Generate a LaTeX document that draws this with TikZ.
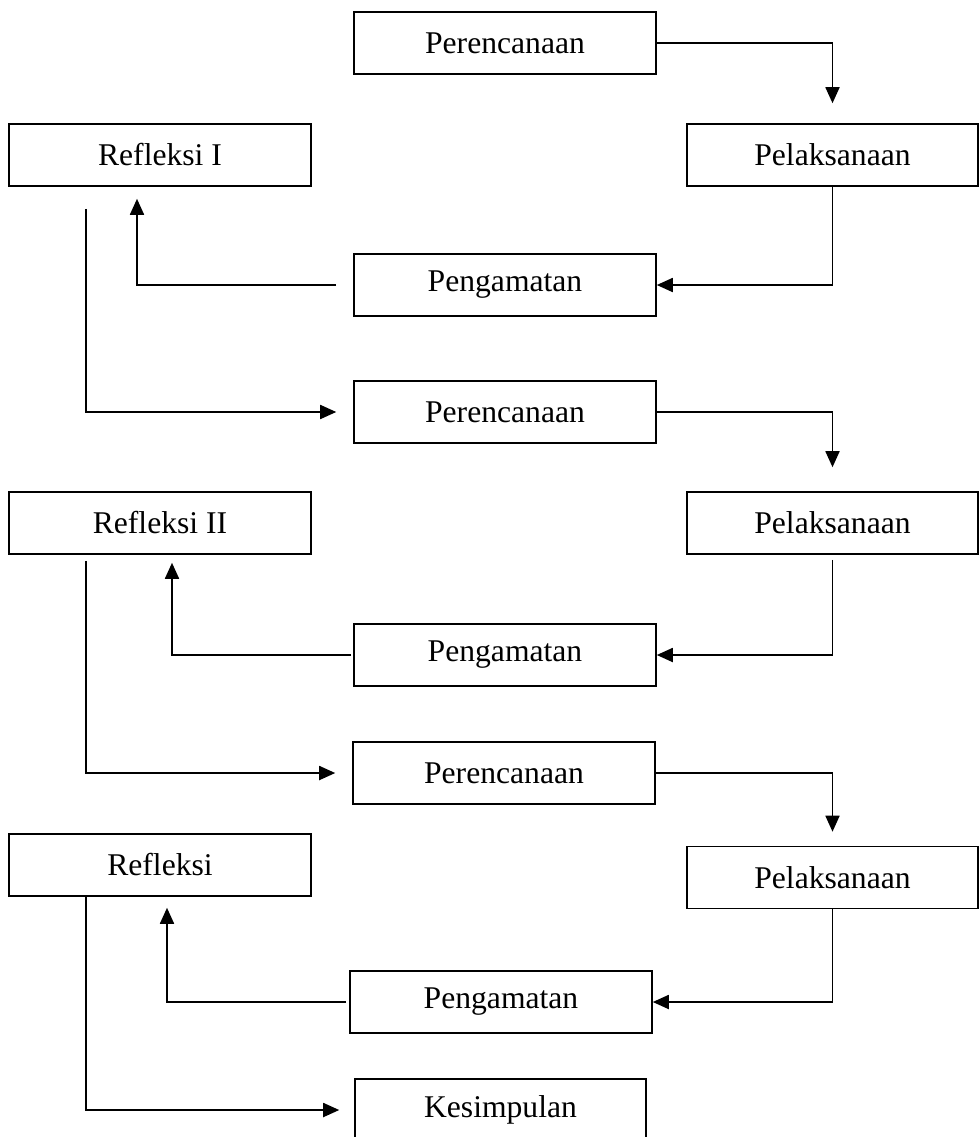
\documentclass[tikz,border=0pt]{standalone}
\usepackage{fontspec}
\setmainfont{Liberation Serif}
\usetikzlibrary{arrows.meta,calc}
\begin{document}
\begin{tikzpicture}[x=0.02cm,y=-0.02cm,line width=0.9pt,
	box/.style={draw,minimum width=6.04cm,minimum height=1.24cm,font=\fontsize{18}{22}\selectfont},
	arr/.style={line width=1pt,-{Triangle[length=3.2mm,width=2.8mm]}}]
	\useasboundingbox (0,0) rectangle (979,1137);
	\node[box] (per1) at (505,43) {Perencanaan};
	\node[box] (ref1) at (160,155) {Refleksi I};
	\node[box,minimum width=5.82cm] (pel1) at (832.5,155) {Pelaksanaan};
	\node[box] (pgm1) at (505,285) {Pengamatan};
	\node[box] (per2) at (505,412) {Perencanaan};
	\node[box] (ref2) at (160,523) {Refleksi II};
	\node[box,minimum width=5.82cm] (pel2) at (832.5,523) {Pelaksanaan};
	\node[box] (pgm2) at (505,655) {Pengamatan};
	\node[box] (per3) at (504,773) {Perencanaan};
	\node[box] (ref3) at (160,865) {Refleksi};
	\node[box,minimum width=5.82cm] (pel3) at (832.5,877.5) {Pelaksanaan};
	\node[box] (pgm3) at (501,1002) {Pengamatan};
	\node[box,minimum width=5.82cm] (kes) at (500.5,1110) {Kesimpulan};
	
	\draw[arr,shorten >=0.4cm] (per1.east) -| (pel1.north);
	\draw[arr] (pel1.south) |- (pgm1.east);
	\draw[arr,shorten <=0.34cm,shorten >=0.24cm] (pgm1.west) -| ($(ref1.south)+(-23,0)$);
	\draw[arr,shorten <=0.44cm,shorten >=0.34cm] ($(ref1.south)+(-74,0)$) |- (per2.west);
	
	\draw[arr,shorten >=0.48cm] (per2.east) -| (pel2.north);
	\draw[arr,shorten <=0.1cm] (pel2.south) |- (pgm2.east);
	\draw[arr,shorten <=0.04cm,shorten >=0.16cm] (pgm2.west) -| ($(ref2.south)+(12,0)$);
	\draw[arr,shorten <=0.12cm,shorten >=0.34cm] ($(ref2.south)+(-74,0)$) |- (per3.west);
	
	\draw[arr,shorten >=0.28cm] (per3.east) -| (pel3.north);
	\draw[arr] (pel3.south) |- (pgm3.east);
	\draw[arr,shorten <=0.06cm,shorten >=0.22cm] (pgm3.west) -| ($(ref3.south)+(7,0)$);
	\draw[arr,shorten >=0.3cm] ($(ref3.south)+(-74,0)$) |- (kes.west);
\end{tikzpicture}
\end{document}
